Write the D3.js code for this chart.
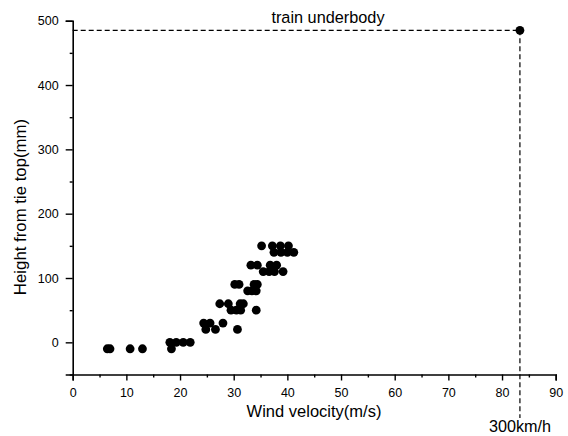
<!DOCTYPE html>
<html>
<head>
<meta charset="utf-8">
<script src="https://cdn.jsdelivr.net/npm/d3@7"></script>
<style>
  body { margin: 0; background: #fff; }
  svg { display: block; font-family: Arial, "Liberation Sans", sans-serif; }
</style>
</head>
<body>
<div id="chart"></div>
<script>
// measured points: wind velocity (m/s) and height above tie top (mm)
const velocity = [
  35.2, 37.2, 38.7, 40.2,
  37.5, 38.8, 40.0, 41.2,
  33.2, 34.4, 36.8, 38.0,
  35.5, 36.6, 37.6, 39.2,
  30.2, 31.0, 33.8, 34.4,
  32.6, 33.4, 34.2,
  27.4, 29.0, 31.2, 31.8,
  29.5, 30.5, 31.3, 34.2,
  24.4, 25.6, 28.0,
  24.8, 26.6, 30.7,
  18.1, 19.3, 20.6, 21.9,
  6.45, 6.95, 10.7, 13.0, 18.4
]
const height = [
  150, 150, 150, 150,
  140, 140, 140, 140,
  120, 120, 120, 120,
  110, 110, 110, 110,
  90, 90, 90, 90,
  80, 80, 80,
  60, 60, 60, 60,
  50, 50, 50, 50,
  30, 30, 30,
  20, 20, 20,
  0, 0, 0, 0,
  -10, -10, -10, -10, -10
]

// train underbody reference at 300 km/h
const refVelocity = 300 / 3.6
const refHeight = 485

const xTicks = [0, 10, 20, 30, 40, 50, 60, 70, 80, 90]
const yTicks = [0, 100, 200, 300, 400, 500]

const width = 568
const height_ = 436
const margin = {top: 20.7, right: 12.3, bottom: 61.5, left: 72.7}

const svg = d3.select('#chart')
  .append('svg')
  .attr('width', width)
  .attr('height', height_)

const x = d3.scaleLinear()
  .domain([0, 90])
  .range([margin.left, width - margin.right])

const y = d3.scaleLinear()
  .domain([-50, 500])
  .range([height_ - margin.bottom, margin.top])

// axes
const xAxis = svg.append('g')
  .attr('transform', `translate(0,${y(-50)})`)
  .call(d3.axisBottom(x).tickValues(xTicks).tickSize(6).tickPadding(8).tickFormat(d3.format('d')))

const xMinor = svg.append('g')
  .attr('transform', `translate(0,${y(-50)})`)
  .call(d3.axisBottom(x).tickValues(d3.range(5, 90, 10)).tickSize(3).tickFormat(''))

const yAxis = svg.append('g')
  .attr('transform', `translate(${x(0)},0)`)
  .call(d3.axisLeft(y).tickValues(yTicks).tickSize(7).tickPadding(7).tickFormat(d3.format('d')))

const yMinor = svg.append('g')
  .attr('transform', `translate(${x(0)},0)`)
  .call(d3.axisLeft(y).tickValues(d3.range(-50, 500, 100)).tickSize(3).tickFormat(''))

svg.selectAll('.domain')
  .attr('stroke', '#000')
  .attr('stroke-width', 1.6)
svg.selectAll('.tick line')
  .attr('stroke', '#000')
  .attr('stroke-width', 1.4)
svg.selectAll('.tick text')
  .attr('fill', '#000')
  .style('font-size', '12.5px')

// minor tick axes only need their ticks
xMinor.select('.domain').remove()
yMinor.select('.domain').remove()

// dashed reference lines
svg.append('line')
  .attr('x1', x(0)).attr('x2', x(refVelocity))
  .attr('y1', y(refHeight)).attr('y2', y(refHeight))
  .attr('stroke', '#000')
  .attr('stroke-width', 1.2)
  .attr('stroke-dasharray', '5,3')

svg.append('line')
  .attr('x1', x(refVelocity)).attr('x2', x(refVelocity))
  .attr('y1', y(refHeight)).attr('y2', 418)
  .attr('stroke', '#000')
  .attr('stroke-width', 1.2)
  .attr('stroke-dasharray', '5,3')

// points
const points = velocity.map((v, i) => ({v: v, h: height[i]}))

svg.append('g')
  .selectAll('circle')
  .data(points)
  .enter().append('circle')
  .attr('cx', d => x(d.v))
  .attr('cy', d => y(d.h))
  .attr('r', 4.4)
  .attr('fill', '#000')

svg.append('circle')
  .attr('cx', x(refVelocity))
  .attr('cy', y(refHeight))
  .attr('r', 4.4)
  .attr('fill', '#000')

// labels
svg.append('text')
  .attr('x', 328)
  .attr('y', 23)
  .attr('text-anchor', 'middle')
  .style('font-size', '16.3px')
  .text('train underbody')

svg.append('text')
  .attr('x', 314)
  .attr('y', 417)
  .attr('text-anchor', 'middle')
  .style('font-size', '16.5px')
  .text('Wind velocity(m/s)')

svg.append('text')
  .attr('x', x(refVelocity))
  .attr('y', 432)
  .attr('text-anchor', 'middle')
  .style('font-size', '16.2px')
  .text('300km/h')

svg.append('text')
  .attr('transform', `translate(26,${207}) rotate(-90)`)
  .attr('text-anchor', 'middle')
  .style('font-size', '16.8px')
  .text('Height from tie top(mm)')
</script>
</body>
</html>
